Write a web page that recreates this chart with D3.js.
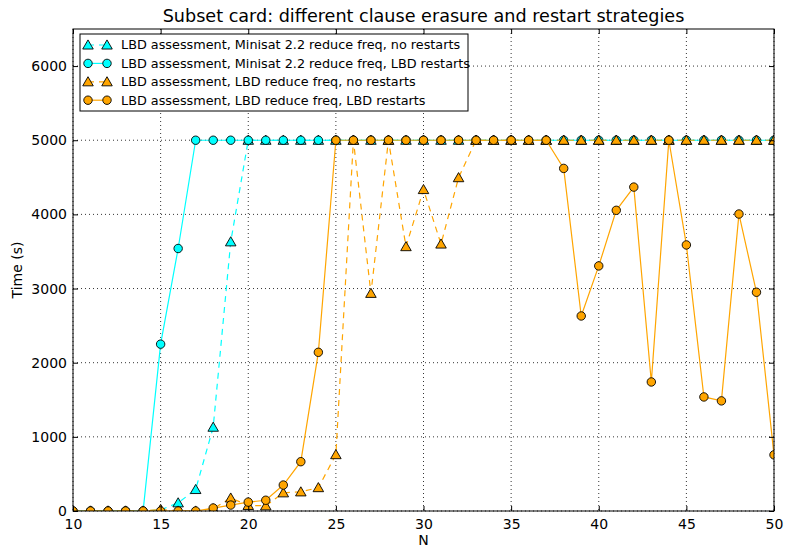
<!DOCTYPE html>
<html>
<head>
<meta charset="utf-8">
<script src="https://cdn.jsdelivr.net/npm/d3@7"></script>
<style>
  html, body { margin: 0; padding: 0; background: #fff; }
  svg { display: block; font-family: "DejaVu Sans", sans-serif; }
</style>
</head>
<body>
<svg id="chart" width="785" height="549"></svg>
<script>
// ---- data ----
const nValues = [10,11,12,13,14,15,16,17,18,19,20,21,22,23,24,25,26,27,28,29,30,31,32,33,34,35,36,37,38,39,40,41,42,43,44,45,46,47,48,49,50];

const minisatNoRestarts = [0,0,0,0,0,15,110,290,1130,3630,5000,5000,5000,5000,5000,5000,5000,5000,5000,5000,5000,5000,5000,5000,5000,5000,5000,5000,5000,5000,5000,5000,5000,5000,5000,5000,5000,5000,5000,5000,5000];
const minisatLbdRestarts = [0,0,0,0,0,2250,3540,5000,5000,5000,5000,5000,5000,5000,5000,5000,5000,5000,5000,5000,5000,5000,5000,5000,5000,5000,5000,5000,5000,5000,5000,5000,5000,5000,5000,5000,5000,5000,5000,5000,5000];
const lbdNoRestarts = [0,0,0,0,0,20,0,0,30,175,75,70,245,258,315,760,5000,2935,5000,3565,4335,3600,4495,5000,5000,5000,5000,5000,5000,5000,5000,5000,5000,5000,5000,5000,5000,5000,5000,5000,5000];
const lbdLbdRestarts = [0,0,0,0,0,0,0,0,40,80,120,145,350,665,2140,5000,5000,5000,5000,5000,5000,5000,5000,5000,5000,5000,5000,5000,4620,2630,3305,4055,4368,1740,5000,3588,1538,1485,4005,2950,757];

const seriesNames = [
  "LBD assessment, Minisat 2.2 reduce freq, no restarts",
  "LBD assessment, Minisat 2.2 reduce freq, LBD restarts",
  "LBD assessment, LBD reduce freq, no restarts",
  "LBD assessment, LBD reduce freq, LBD restarts"
];
const seriesValues = [minisatNoRestarts, minisatLbdRestarts, lbdNoRestarts, lbdLbdRestarts];
const seriesColors = ["#00ffff", "#00ffff", "#ffa500", "#ffa500"];
const seriesMarkers = ["triangle", "circle", "triangle", "circle"];
const seriesDashed = [true, false, true, false];

const xTicks = [10,15,20,25,30,35,40,45,50];
const yTicks = [0,1000,2000,3000,4000,5000,6000];

const titleText = "Subset card: different clause erasure and restart strategies";
const xLabel = "N";
const yLabel = "Time (s)";

// ---- layout ----
const svg = d3.select("#chart");
const L = 73, R = 774, T = 29, B = 511;
const x = d3.scaleLinear().domain([10, 50]).range([L, R]);
const y = d3.scaleLinear().domain([0, 6500]).range([B, T]);

svg.append("defs").append("clipPath").attr("id", "clip")
  .append("rect").attr("x", L).attr("y", T).attr("width", R - L).attr("height", B - T);

// grid
const grid = svg.append("g");
xTicks.forEach(t => grid.append("line")
  .attr("x1", x(t)).attr("x2", x(t)).attr("y1", T).attr("y2", B)
  .attr("stroke", "#000").attr("stroke-width", 0.8).attr("stroke-dasharray", "1,3"));
yTicks.forEach(t => grid.append("line")
  .attr("x1", L).attr("x2", R).attr("y1", y(t)).attr("y2", y(t))
  .attr("stroke", "#000").attr("stroke-width", 0.8).attr("stroke-dasharray", "1,3"));

const triSym = d3.symbol().type(d3.symbolTriangle).size(48);
const cirSym = d3.symbol().type(d3.symbolCircle).size(56);

const plot = svg.append("g").attr("clip-path", "url(#clip)");
seriesValues.forEach((vals, i) => {
  const pts = nValues.map((n, k) => [n, vals[k]]);
  const line = d3.line().x(d => x(d[0])).y(d => y(d[1]));
  plot.append("path").attr("d", line(pts))
    .attr("fill", "none").attr("stroke", seriesColors[i]).attr("stroke-width", 1.2)
    .attr("stroke-dasharray", seriesDashed[i] ? "6,5" : null);
  const sym = seriesMarkers[i] === "triangle" ? triSym : cirSym;
  plot.append("g").selectAll("path").data(pts).join("path")
    .attr("d", sym)
    .attr("transform", d => `translate(${x(d[0])},${y(d[1]) + (seriesMarkers[i] === "triangle" ? 1 : 0)})`)
    .attr("fill", seriesColors[i]).attr("stroke", "#000").attr("stroke-width", 0.9);
});

// axes (ticks inward on all sides)
const axB = svg.append("g").attr("transform", `translate(0,${B})`)
  .call(d3.axisBottom(x).tickValues(xTicks).tickSizeInner(-5).tickSizeOuter(0).tickPadding(8).tickFormat(d3.format("d")));
const axT = svg.append("g").attr("transform", `translate(0,${T})`)
  .call(d3.axisTop(x).tickValues(xTicks).tickSizeInner(-5).tickSizeOuter(0).tickFormat(""));
const axL = svg.append("g").attr("transform", `translate(${L},0)`)
  .call(d3.axisLeft(y).tickValues(yTicks).tickSizeInner(-5).tickSizeOuter(0).tickPadding(6).tickFormat(d3.format("d")));
const axR = svg.append("g").attr("transform", `translate(${R},0)`)
  .call(d3.axisRight(y).tickValues(yTicks).tickSizeInner(-5).tickSizeOuter(0).tickFormat(""));
[axB, axT, axL, axR].forEach(a => {
  a.attr("font-size", 14).attr("font-family", "DejaVu Sans");
  a.select(".domain").remove();
  a.selectAll(".tick line").attr("stroke", "#000").attr("stroke-width", 1);
  a.selectAll("text").attr("font-size", 14).attr("fill", "#000");
});
axB.selectAll("text").attr("dy", "0.71em");

svg.append("rect").attr("x", L).attr("y", T).attr("width", R - L).attr("height", B - T)
  .attr("fill", "none").attr("stroke", "#000").attr("stroke-width", 1);

// labels
svg.append("text").attr("x", (L + R) / 2).attr("y", 22).attr("text-anchor", "middle")
  .attr("font-size", 17.6).text(titleText);
svg.append("text").attr("x", (L + R) / 2).attr("y", 545).attr("text-anchor", "middle")
  .attr("font-size", 14).text(xLabel);
svg.append("text").attr("transform", `translate(22,${(T + B) / 2}) rotate(-90)`)
  .attr("text-anchor", "middle").attr("font-size", 14).text(yLabel);

// legend
const lg = svg.append("g");
lg.append("rect").attr("x", 80).attr("y", 34).attr("width", 388).attr("height", 77)
  .attr("fill", "#fff").attr("stroke", "#000").attr("stroke-width", 1);
seriesNames.forEach((name, i) => {
  const cy = 45 + i * 18.4;
  lg.append("line").attr("x1", 88).attr("x2", 107).attr("y1", cy).attr("y2", cy)
    .attr("stroke", seriesColors[i]).attr("stroke-width", 1.2)
    .attr("stroke-dasharray", seriesDashed[i] ? "6,5" : null);
  const sym = seriesMarkers[i] === "triangle" ? triSym : cirSym;
  [88, 107].forEach(px => lg.append("path").attr("d", sym)
    .attr("transform", `translate(${px},${cy + (seriesMarkers[i] === "triangle" ? 1 : 0)})`)
    .attr("fill", seriesColors[i]).attr("stroke", "#000").attr("stroke-width", 0.9));
  lg.append("text").attr("x", 121).attr("y", cy).attr("dy", "0.35em")
    .attr("font-size", 12.8).text(name);
});
</script>
</body>
</html>
